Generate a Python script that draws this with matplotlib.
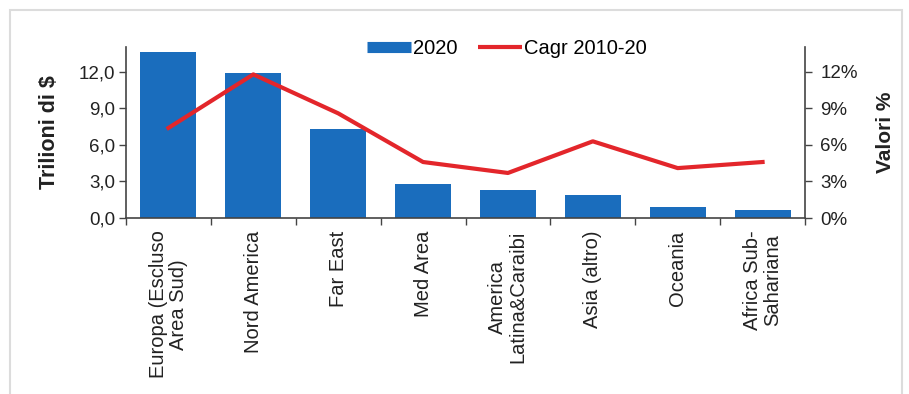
import matplotlib
matplotlib.use("Agg")
import matplotlib.pyplot as plt
from matplotlib.patches import Rectangle
from matplotlib.lines import Line2D

categories = ["Europa (Escluso\nArea Sud)", "Nord America", "Far East", "Med Area",
              "America\nLatina&Caraibi", "Asia (altro)", "Oceania", "Africa Sub-\nSahariana"]
values_2020 = [13.6, 11.9, 7.3, 2.8, 2.3, 1.9, 0.9, 0.65]
cagr_2010_20 = [7.4, 11.8, 8.6, 4.6, 3.7, 6.3, 4.1, 4.6]
left_ticks = [0, 3, 6, 9, 12]
left_labels = ["0,0", "3,0", "6,0", "9,0", "12,0"]
right_ticks = [0, 3, 6, 9, 12]
right_labels = ["0%", "3%", "6%", "9%", "12%"]

plt.rcParams['font.family'] = ['Liberation Sans', 'DejaVu Sans']

fig = plt.figure(figsize=(9.09, 3.94), dpi=100)
fig.patches.append(Rectangle((10/909, -0.1), 892/909, 1.1 - 10/394, transform=fig.transFigure,
                             fill=False, edgecolor="#dcdcdc", linewidth=1.5, zorder=0))

ax = fig.add_axes([126/909, 1 - 218/394, (805 - 126)/909, (218 - 47)/394])
x = list(range(len(categories)))
blue = "#1a6dbd"
red = "#e3262b"
txt = "#222222"
ax.bar(x, values_2020, width=0.66, color=blue, zorder=2)
ax.set_xlim(-0.5, len(categories) - 0.5)
ax.set_ylim(0, 14.05)
ax.set_yticks(left_ticks)
ax.set_yticklabels(left_labels, fontsize=13.5, color=txt)
ax.set_xticks([i + 0.5 for i in range(-1, len(categories))], minor=False)
ax.set_xticklabels([])
ax.set_xticks(x, minor=True)
ax.set_xticklabels(categories, minor=True, rotation=90, fontsize=14.5, color=txt,
                   linespacing=1.1, va="top", ha="center")
ax.tick_params(axis="x", which="minor", length=0, pad=9)
ax.tick_params(axis="x", which="major", length=5, width=1, direction="out", color="#444444")
ax.tick_params(axis="y", length=5, width=1, direction="out", color="#444444", pad=3)
for s in ["top", "right"]:
    ax.spines[s].set_visible(False)
for s in ["left", "bottom"]:
    ax.spines[s].set_color("#444444")
    ax.spines[s].set_linewidth(1.2)
ax.set_ylabel("Trilioni di $", fontsize=15.5, fontweight="bold", color=txt, labelpad=13)

ax2 = ax.twinx()
ax2.plot(x, cagr_2010_20, color=red, linewidth=3, zorder=3)
ax2.set_ylim(0, 14.05)
ax2.set_yticks(right_ticks)
ax2.set_yticklabels(right_labels, fontsize=13.5, color=txt)
ax2.tick_params(axis="y", length=5, width=1, direction="out", color="#444444", pad=6)
for s in ["top", "left", "bottom"]:
    ax2.spines[s].set_visible(False)
ax2.spines["right"].set_color("#444444")
ax2.spines["right"].set_linewidth(1.2)
ax2.set_ylabel("Valori %", fontsize=15, fontweight="bold", color=txt, labelpad=13)

handles = [Line2D([0], [0], color=blue, linewidth=8, solid_capstyle="butt"),
           Line2D([0], [0], color=red, linewidth=3, solid_capstyle="butt")]
fig.legend(handles, ["2020", "Cagr 2010-20"], loc="center", bbox_to_anchor=(507/909, 1 - 49/394),
           ncol=2, frameon=False, fontsize=14.5, handlelength=2.2, handletextpad=0.1,
           columnspacing=1.0)

fig.savefig("out.png", dpi=100)
